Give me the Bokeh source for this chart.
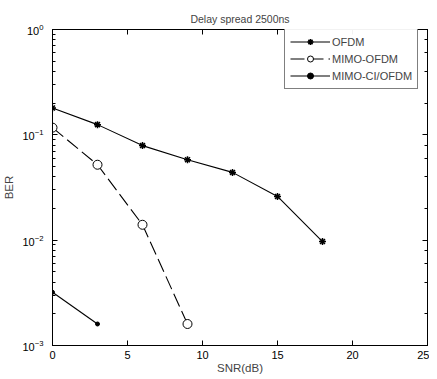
from bokeh.plotting import figure
from bokeh.layouts import column
from bokeh.models import (LogAxis, LinearAxis, SingleIntervalTicker, Legend,
                          LegendItem, CustomJSTickFormatter, Spacer)
from bokeh.embed import file_html
from bokeh.resources import INLINE

snr_ofdm = [0, 3, 6, 9, 12, 15, 18]
ber_ofdm = [0.18, 0.125, 0.079, 0.058, 0.044, 0.026, 0.0097]
snr_mimo = [0, 3, 6, 9]
ber_mimo = [0.117, 0.052, 0.014, 0.0016]
snr_ci = [0, 3]
ber_ci = [0.0032, 0.0016]
title_text = "Delay spread 2500ns"
x_label = "SNR(dB)"
y_label = "BER"

FONT = "Liberation Sans"

p = figure(frame_width=375, frame_height=316, y_axis_type="log", x_range=(0, 25), y_range=(1e-3, 1),
           output_backend="svg", toolbar_location=None,
           min_border_left=44, min_border_right=2, min_border_top=22, min_border_bottom=25)
p.title.text = title_text
p.title.align = "center"
p.title.text_font = FONT
p.title.text_font_size = "10.5px"
p.title.text_font_style = "normal"
p.title.standoff = 10

p.grid.visible = False
p.outline_line_color = "black"
p.background_fill_color = "white"

# data
l1 = p.line(snr_ofdm, ber_ofdm, line_color="black", line_width=1.1)
s1 = p.scatter(snr_ofdm, ber_ofdm, marker="asterisk", size=7, line_color="black", line_width=1.5)
l2 = p.line(snr_mimo, ber_mimo, line_color="black", line_width=1.1, line_dash="14 5")
s2 = p.scatter(snr_mimo, ber_mimo, marker="circle", size=9, line_color="black", fill_color="white", line_width=1)
l3 = p.line(snr_ci, ber_ci, line_color="black", line_width=1.1)
s3 = p.scatter(snr_ci, ber_ci, marker="circle", size=4, line_color="black", fill_color="black")

for ax in (p.xaxis[0], p.yaxis[0]):
    ax.major_tick_in = 5
    ax.major_tick_out = 0
    ax.minor_tick_in = 3
    ax.minor_tick_out = 0
    ax.axis_line_color = "black"
    ax.major_label_text_font = FONT
    ax.major_label_text_font_size = "11px"
    ax.major_label_text_color = "black"
    ax.axis_label_text_font = FONT
    ax.axis_label_text_font_size = "11.5px"
    ax.axis_label_text_font_style = "normal"

p.xaxis[0].major_label_standoff = 5
p.xaxis[0].axis_label_standoff = 0
p.yaxis[0].major_label_standoff = 9
p.yaxis[0].axis_label_standoff = 4
p.xaxis[0].ticker = SingleIntervalTicker(interval=5, num_minor_ticks=0)
p.xaxis[0].minor_tick_line_color = None
p.xaxis[0].axis_label = x_label
p.yaxis[0].axis_label = y_label

rax = LogAxis(major_tick_in=5, major_tick_out=0, minor_tick_in=3, minor_tick_out=0,
              formatter=CustomJSTickFormatter(code="return ''"), major_label_standoff=0)
p.add_layout(rax, "right")
tax = LinearAxis(ticker=SingleIntervalTicker(interval=5, num_minor_ticks=0),
                 major_tick_in=5, major_tick_out=0, minor_tick_line_color=None,
                 formatter=CustomJSTickFormatter(code="return ''"), major_label_standoff=7)
p.add_layout(tax, "above")

legend = Legend(items=[
    LegendItem(label="OFDM", renderers=[l1, s1]),
    LegendItem(label="MIMO-OFDM", renderers=[l2, s2]),
    LegendItem(label="MIMO-CI/OFDM", renderers=[l3, s3]),
], location=(232, 256))
legend.label_text_font = FONT
legend.label_text_font_size = "11px"
legend.border_line_color = "black"
legend.border_line_width = 1
legend.glyph_width = 40
legend.glyph_height = 15
legend.label_height = 15
legend.spacing = 2
legend.padding = 5
legend.margin = 0
legend.label_standoff = 2
p.add_layout(legend)

layout = column(Spacer(height=5), p, spacing=0)

open("out.html", "w").write(file_html(layout, INLINE))
